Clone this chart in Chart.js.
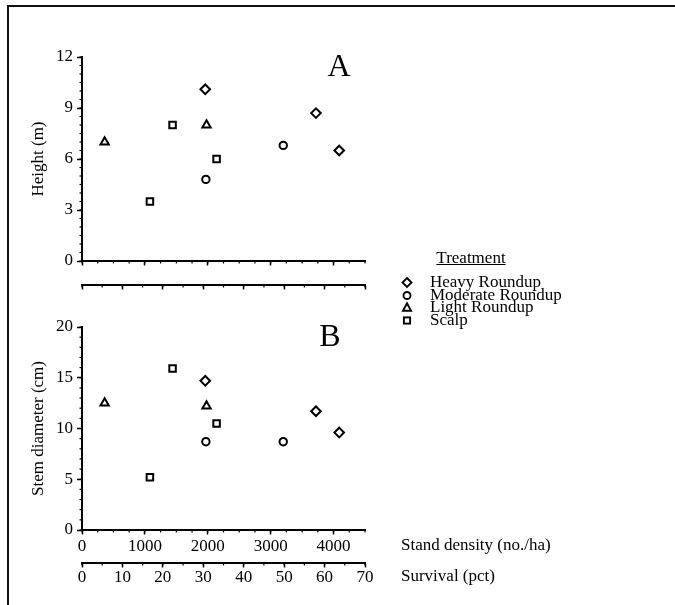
<!DOCTYPE html>
<html>
<head>
<meta charset="utf-8">
<script src="https://cdn.jsdelivr.net/npm/chart.js@4.4.1/dist/chart.umd.min.js"></script>
<style>
  body { margin: 0; width: 675px; height: 605px; overflow: hidden; background: #fff; position: relative;
         font-family: 'Liberation Serif', 'DejaVu Serif', serif; color: #000; }
  #frame { position: absolute; left: 7px; top: 5px; width: 700px; height: 700px;
           border-top: 2px solid #111; border-left: 2px solid #111; }
  canvas { position: absolute; left: 0; }
  .txt { position: absolute; white-space: nowrap; }
  .panel { font-size: 32px; line-height: 30px; width: 40px; text-align: center; }
  .side { font-size: 17px; line-height: 20px; }
  #legend { position: absolute; left: 400px; top: 250px; width: 200px; font-size: 17px; white-space: nowrap; }
  #legend .head { position: absolute; left: 20px; width: 102px; top: 0; line-height: 16px; text-align: center; text-decoration: underline; }
  #legend .row { position: absolute; left: 0; width: 200px; height: 12.5px; line-height: 12.5px; }
  #legend svg { position: absolute; left: 0; top: 0; }
  #legend span { position: absolute; left: 30px; top: 0; white-space: nowrap; }
</style>
</head>
<body>
<div id="frame"></div>
<canvas id="chart-a" width="675" height="300" style="top:0"></canvas>
<canvas id="chart-b" width="675" height="305" style="top:300px"></canvas>
<div class="txt panel" style="left:319px; top:50px">A</div>
<div class="txt panel" style="left:310px; top:320px">B</div>
<div class="txt side" style="left:401px; top:535px">Stand density (no./ha)</div>
<div class="txt side" style="left:401px; top:566px">Survival (pct)</div>
<div id="legend"></div>

<script>
// ---- data ----
const TREATMENTS = ['Heavy Roundup', 'Moderate Roundup', 'Light Roundup', 'Scalp'];
const DENSITY = [
  [1960, 3720, 4090],
  [1970, 3200],
  [360, 1980],
  [1080, 1440, 2140]
];
const HEIGHT = [
  [10.1, 8.7, 6.5],
  [4.8, 6.8],
  [7.0, 8.0],
  [3.5, 8.0, 6.0]
];
const DIAMETER = [
  [14.7, 11.7, 9.6],
  [8.7, 8.7],
  [12.5, 12.2],
  [5.2, 15.9, 10.5]
];
const DENSITY_TICKS = [0, 1000, 2000, 3000, 4000];
const SURVIVAL_TICKS = [0, 10, 20, 30, 40, 50, 60, 70];
const HEIGHT_TICKS = [0, 3, 6, 9, 12];
const DIAMETER_TICKS = [0, 5, 10, 15, 20];

const POINT_STYLES = ['rectRot', 'circle', 'triangle', 'rect'];
const POINT_RADIUS = [4.8, 3.7, 4.8, 4.6];

Chart.defaults.font.family = "'Liberation Serif', 'DejaVu Serif', serif";
Chart.defaults.font.size = 17;
Chart.defaults.color = '#000';

// small unlabeled ticks between the major ones
const minorTicks = {
  id: 'minorTicks',
  afterDraw(chart, args, opts) {
    const ctx = chart.ctx;
    ctx.save();
    ctx.strokeStyle = '#000';
    ctx.lineWidth = 1.2;
    for (const [id, step] of Object.entries(opts.steps || {})) {
      const s = chart.scales[id];
      const n = Math.round((s.max - s.min) / step);
      for (let i = 0; i <= n; i++) {
        const p = s.getPixelForValue(s.min + i * step);
        ctx.beginPath();
        if (s.isHorizontal()) { ctx.moveTo(p, s.top); ctx.lineTo(p, s.top + 2.5); }
        else { ctx.moveTo(s.right - 2.5, p); ctx.lineTo(s.right, p); }
        ctx.stroke();
      }
    }
    ctx.restore();
  }
};

function tickList(list) {
  return s => { s.ticks = list.map(v => ({ value: v })); };
}

function axisStyle(tickLen) {
  return {
    border: { display: true, color: '#000', width: 2 },
    grid: { drawOnChartArea: false, drawTicks: true, tickLength: tickLen, tickColor: '#000', tickWidth: 1.5 }
  };
}

function makeChart(id, yValues, yTicks, yTitle, yMinor, showX, pad, xH, x2H) {
  const datasets = TREATMENTS.map((name, i) => ({
    label: name,
    data: DENSITY[i].map((d, j) => ({ x: d, y: yValues[i][j] })),
    pointStyle: POINT_STYLES[i],
    pointRadius: POINT_RADIUS[i],
    pointBorderWidth: 2,
    pointBorderColor: '#000',
    pointBackgroundColor: '#fff',
    showLine: false
  }));

  return new Chart(document.getElementById(id), {
    type: 'scatter',
    data: { datasets },
    options: {
      responsive: false,
      animation: false,
      layout: { padding: pad },
      plugins: { legend: { display: false }, tooltip: { enabled: false }, minorTicks: { steps: { x: 250, x2: 5, y: yMinor } } },
      scales: {
        x: {
          type: 'linear', position: 'bottom', weight: 0, min: 0, max: 4500,
          afterBuildTicks: tickList(DENSITY_TICKS),
          afterFit: s => { s.height = xH; },
          ticks: { display: showX, padding: 2, callback: v => String(v) },
          ...axisStyle(4.5)
        },
        x2: {
          type: 'linear', position: 'bottom', weight: 1, min: 0, max: 70,
          afterBuildTicks: tickList(SURVIVAL_TICKS),
          afterFit: s => { s.height = x2H; },
          ticks: { display: showX, padding: 0, callback: v => String(v) },
          ...axisStyle(4.5)
        },
        y: {
          type: 'linear', position: 'left', min: 0, max: yTicks[yTicks.length - 1],
          afterBuildTicks: tickList(yTicks),
          afterFit: s => { s.width = 82; },
          ticks: { padding: 4, callback: v => String(v) },
          title: { display: true, text: yTitle, padding: { top: 28, bottom: 0 }, font: { size: 17 } },
          ...axisStyle(5)
        }
      }
    },
    plugins: [minorTicks]
  });
}

makeChart('chart-a', HEIGHT, HEIGHT_TICKS, 'Height (m)', 0.5, false,
  { top: 57, left: 0, right: 310, bottom: 0 }, 24, 15);
makeChart('chart-b', DIAMETER, DIAMETER_TICKS, 'Stem diameter (cm)', 1, true,
  { top: 27, left: 0, right: 310, bottom: 12 }, 33, 30);

// ---- legend ----
const SVG_NS = 'http://www.w3.org/2000/svg';
function marker(style) {
  const svg = document.createElementNS(SVG_NS, 'svg');
  svg.setAttribute('width', '14');
  svg.setAttribute('height', '13');
  let shape;
  if (style === 'rectRot') {
    shape = document.createElementNS(SVG_NS, 'polygon');
    shape.setAttribute('points', '7,2 11.5,6.5 7,11 2.5,6.5');
  } else if (style === 'circle') {
    shape = document.createElementNS(SVG_NS, 'circle');
    shape.setAttribute('cx', '7'); shape.setAttribute('cy', '6.5'); shape.setAttribute('r', '3.5');
  } else if (style === 'triangle') {
    shape = document.createElementNS(SVG_NS, 'polygon');
    shape.setAttribute('points', '7,2.3 11,9.8 3,9.8');
  } else {
    shape = document.createElementNS(SVG_NS, 'rect');
    shape.setAttribute('x', '3.9'); shape.setAttribute('y', '3.4');
    shape.setAttribute('width', '6.2'); shape.setAttribute('height', '6.2');
  }
  shape.setAttribute('fill', '#fff');
  shape.setAttribute('stroke', '#000');
  shape.setAttribute('stroke-width', '1.9');
  svg.appendChild(shape);
  return svg;
}

const legend = document.getElementById('legend');
const head = document.createElement('div');
head.className = 'head';
head.textContent = 'Treatment';
legend.appendChild(head);
TREATMENTS.forEach((name, i) => {
  const row = document.createElement('div');
  row.className = 'row';
  row.style.top = (26 + i * 12.5) + 'px';
  row.appendChild(marker(POINT_STYLES[i]));
  const label = document.createElement('span');
  label.textContent = name;
  row.appendChild(label);
  legend.appendChild(row);
});
</script>
</body>
</html>
